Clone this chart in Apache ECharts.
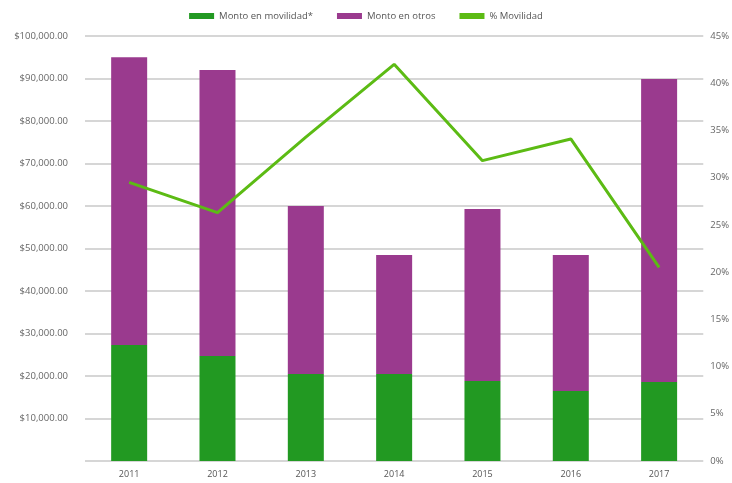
<!DOCTYPE html>
<html><head><meta charset="utf-8">
<script src="https://cdn.jsdelivr.net/npm/echarts@6/dist/echarts.min.js"></script>
<style>html,body{margin:0;padding:0;background:#fff}#c{width:732px;height:483px}</style>
</head><body><div id="c"></div>
<script>
const years = ['2011','2012','2013','2014','2015','2016','2017'];
const montoMovilidad = [27300, 24700, 20500, 20500, 18800, 16500, 18600];
const montoOtros = [67700, 67300, 39500, 28000, 40500, 32000, 71300];
const pctMovilidad = [29.5, 26.3, 34.3, 42.0, 31.8, 34.1, 20.5];

const chart = echarts.init(document.getElementById('c'));
const fontFamily = "'Open Sans', 'Noto Sans', sans-serif";
chart.setOption({
  animation: false,
  textStyle: {fontFamily},
  legend: {
    top: 6, left: 'center', itemGap: 24, itemWidth: 25, itemHeight: 6,
    textStyle: {fontSize: 9.5, color: '#555', fontFamily},
    data: [
      {name: 'Monto en movilidad*', icon: 'rect'},
      {name: 'Monto en otros', icon: 'rect'},
      {name: '% Movilidad', icon: 'rect'}
    ]
  },
  grid: {left: 85, right: 27, top: 36, bottom: 22, containLabel: false},
  xAxis: {
    type: 'category', data: years,
    axisLine: {show: false}, axisTick: {show: false},
    axisLabel: {color: '#555', fontSize: 9, margin: 9, fontFamily}
  },
  yAxis: [
    {
      type: 'value', min: 0, max: 100000, interval: 10000,
      axisLine: {show: false}, axisTick: {show: false},
      axisLabel: {color: '#666', fontSize: 9.5, margin: 17, fontFamily,
        formatter: v => v === 0 ? '' : '$' + v.toLocaleString('en-US') + '.00'},
      splitLine: {lineStyle: {color: '#d6d6d6', width: 2}}
    },
    {
      type: 'value', min: 0, max: 45, interval: 5,
      axisLine: {show: false}, axisTick: {show: false},
      axisLabel: {color: '#666', fontSize: 9.5, margin: 7, fontFamily, formatter: '{value}%'},
      splitLine: {show: false}
    }
  ],
  series: [
    {name: 'Monto en movilidad*', type: 'bar', stack: 'a', data: montoMovilidad,
     barWidth: 36, itemStyle: {color: '#229922'}},
    {name: 'Monto en otros', type: 'bar', stack: 'a', data: montoOtros,
     barWidth: 36, itemStyle: {color: '#9a3a8e'}},
    {name: '% Movilidad', type: 'line', yAxisIndex: 1, data: pctMovilidad,
     showSymbol: false, symbol: 'none', lineStyle: {color: '#5cbb14', width: 3},
     itemStyle: {color: '#5cbb14'}}
  ]
});
</script></body></html>
